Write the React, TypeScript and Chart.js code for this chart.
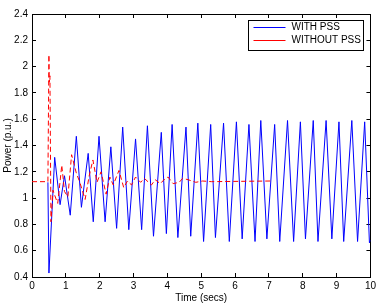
import React, { useEffect, useRef } from "react";
import { Chart, registerables } from "chart.js";
Chart.register(...registerables);

const xTicks = [0, 1, 2, 3, 4, 5, 6, 7, 8, 9, 10];
const yTicks = [0.4, 0.6, 0.8, 1, 1.2, 1.4, 1.6, 1.8, 2, 2.2, 2.4];
const seriesLabels = ["WITH PSS", "WITHOUT PSS"];

const withPssT = [0.47, 0.5, 0.67, 0.83, 0.96, 1.13, 1.31, 1.46, 1.66, 1.81, 1.98, 2.16, 2.33, 2.5,
  2.68, 2.86, 3.06, 3.24, 3.41, 3.59, 3.82, 3.97, 4.14, 4.31, 4.55, 4.69, 4.9, 5.07, 5.28, 5.42,
  5.66, 5.83, 6.04, 6.21, 6.41, 6.59, 6.76, 6.94, 7.17, 7.32, 7.55, 7.73, 7.93, 8.08, 8.31, 8.45,
  8.69, 8.86, 9.07, 9.21, 9.45, 9.62, 9.83, 9.97, 10];
const withPssV = [1.12, 0.43, 1.31, 0.95, 1.17, 0.87, 1.47, 0.93, 1.34, 0.82, 1.47, 0.82, 1.39, 0.77,
  1.54, 0.76, 1.45, 0.76, 1.55, 0.71, 1.5, 0.73, 1.56, 0.7, 1.54, 0.71, 1.57, 0.67, 1.56, 0.7,
  1.57, 0.67, 1.58, 0.69, 1.56, 0.67, 1.59, 0.69, 1.56, 0.67, 1.59, 0.67, 1.58, 0.69, 1.59, 0.67,
  1.59, 0.69, 1.58, 0.67, 1.59, 0.67, 1.58, 0.66, 0.68];

const withoutPssT = [0, 0.47, 0.5, 0.51, 0.53, 0.56, 0.62, 0.7, 0.76, 0.88, 0.96, 1.06, 1.17, 1.31,
  1.4, 1.57, 1.69, 1.8, 1.92, 2.04, 2.19, 2.3, 2.4, 2.57, 2.71, 2.82, 2.94, 3.06, 3.21, 3.32, 3.53,
  3.64, 3.79, 3.94, 4.02, 4.17, 4.35, 4.45, 4.61, 4.84, 5.04, 5.3, 7.05];
const withoutPssV = [1.125, 1.125, 2.09, 1.88, 1.93, 0.82, 1.06, 1.0, 0.96, 1.25, 1.05, 1.01, 1.33, 1.19,
  1.13, 0.99, 1.17, 1.29, 1.12, 1.2, 1.03, 1.16, 1.1, 1.21, 1.08, 1.13, 1.1, 1.16, 1.12, 1.15, 1.1,
  1.14, 1.11, 1.15, 1.16, 1.11, 1.12, 1.15, 1.14, 1.12, 1.13, 1.125, 1.13];

const FONT = "'Liberation Sans', Arial, sans-serif";

const boxLegend = {
  id: "boxLegend",
  afterDraw(chart: any) {
    const { ctx, chartArea } = chart;
    const w = 115, h = 30;
    const x0 = Math.round(chartArea.right - 7 - w) + 0.5;
    const y0 = Math.round(chartArea.top + 6) + 0.5;
    ctx.save();
    ctx.fillStyle = "#fff";
    ctx.fillRect(x0, y0, w, h);
    ctx.strokeStyle = "#000";
    ctx.lineWidth = 1;
    ctx.setLineDash([]);
    ctx.strokeRect(x0, y0, w, h);
    ctx.font = `10px ${FONT}`;
    ctx.textBaseline = "middle";
    ctx.textAlign = "left";
    chart.data.datasets.forEach((ds: any, i: number) => {
      const y = y0 + 7 + i * 13;
      ctx.strokeStyle = ds.borderColor;
      ctx.beginPath();
      ctx.moveTo(x0 + 5, y);
      ctx.lineTo(x0 + 37, y);
      ctx.stroke();
      ctx.fillStyle = "#000";
      ctx.fillText(ds.label, x0 + 43, y);
    });
    ctx.restore();
  },
};

export default function App() {
  const ref = useRef<HTMLCanvasElement | null>(null);
  useEffect(() => {
    if (!ref.current) return;
    const tickFont = { family: FONT, size: 10 };
    const setX = (s: any) => { s.ticks = xTicks.map((v) => ({ value: v })); };
    const setY = (s: any) => { s.ticks = yTicks.map((v) => ({ value: v })); };
    const grid = { drawOnChartArea: false, tickLength: -4, color: "#000", lineWidth: 1 };
    const border = { color: "#000", width: 1 };
    const chart = new Chart(ref.current, {
      type: "line",
      data: {
        datasets: [
          {
            label: seriesLabels[0],
            data: withPssT.map((t, i) => ({ x: t, y: withPssV[i] })),
            borderColor: "#0000ff",
            borderWidth: 1,
            pointRadius: 0,
            tension: 0,
            fill: false,
            order: 1,
          },
          {
            label: seriesLabels[1],
            data: withoutPssT.map((t, i) => ({ x: t, y: withoutPssV[i] })),
            borderColor: "#ff0000",
            borderWidth: 1,
            borderDash: [5, 3],
            pointRadius: 0,
            tension: 0,
            fill: false,
            order: 0,
          },
        ],
      },
      options: {
        animation: false,
        responsive: false,
        events: [],
        layout: { padding: { top: 7, right: 8, left: 0, bottom: 0 } },
        plugins: { legend: { display: false }, tooltip: { enabled: false } },
        scales: {
          x: {
            type: "linear",
            position: "bottom",
            min: 0,
            max: 10,
            afterBuildTicks: setX,
            ticks: { font: tickFont, color: "#000", padding: 7, maxRotation: 0, autoSkip: false, callback: (v: any) => String(v) },
            grid,
            border,
            title: { display: true, text: "Time (secs)", font: tickFont, color: "#000", padding: { top: 0, bottom: 0 } },
            afterFit: (s: any) => { s.height = 27; },
          },
          x2: {
            type: "linear",
            position: "top",
            min: 0,
            max: 10,
            afterBuildTicks: setX,
            ticks: { display: false },
            grid,
            border,
            afterFit: (s: any) => { s.height = 0; },
          },
          y: {
            type: "linear",
            position: "left",
            min: 0.4,
            max: 2.4,
            afterBuildTicks: setY,
            ticks: { font: tickFont, color: "#000", padding: 8, autoSkip: false, callback: (v: any) => String(Math.round(v * 10) / 10) },
            grid,
            border,
            title: { display: true, text: "Power (p.u.)", font: tickFont, color: "#000", padding: { top: 2, bottom: 0 } },
            afterFit: (s: any) => { s.width = 32; },
          },
          y2: {
            type: "linear",
            position: "right",
            min: 0.4,
            max: 2.4,
            afterBuildTicks: setY,
            ticks: { display: false },
            grid,
            border,
            afterFit: (s: any) => { s.width = 0; },
          },
        },
      },
      plugins: [boxLegend],
    } as any);
    return () => chart.destroy();
  }, []);
  return (
    <div style={{ position: "fixed", left: 0, top: 0, width: 383, height: 304, background: "#fff" }}>
      <canvas ref={ref} width={383} height={304} style={{ display: "block" }} />
    </div>
  );
}
